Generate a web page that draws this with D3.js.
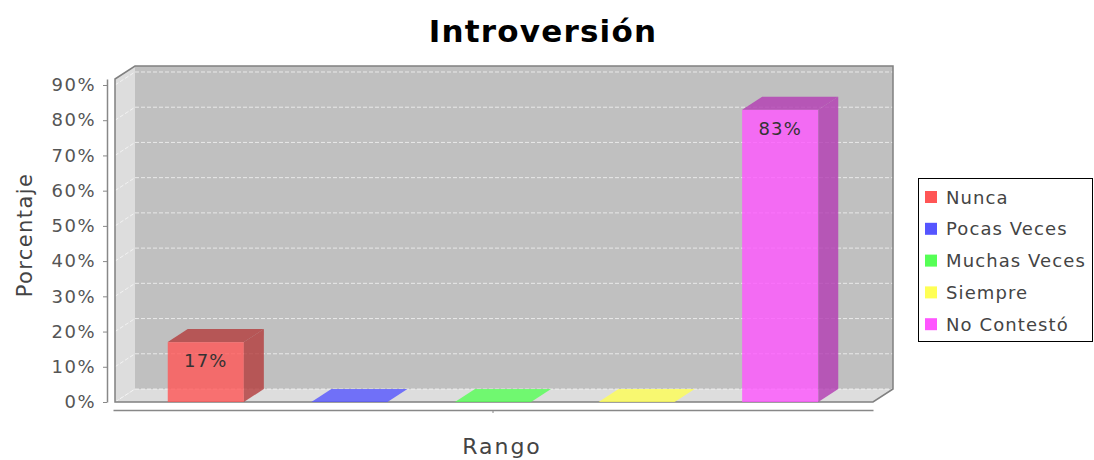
<!DOCTYPE html>
<html>
<head>
<meta charset="utf-8">
<script src="https://cdn.jsdelivr.net/npm/d3@7"></script>
<style>
  body { margin: 0; background: #fff; }
  text { font-family: "DejaVu Sans", sans-serif; }
</style>
</head>
<body>
<svg id="chart" width="1094" height="460"></svg>
<script>
// chart data
const seriesNames = ["Nunca", "Pocas Veces", "Muchas Veces", "Siempre", "No Contestó"];
const seriesValues = [0.17, 0, 0, 0, 0.83];
const seriesColors = ["#ff5555", "#5555ff", "#55ff55", "#ffff55", "#ff55ff"];
const categories = [""];
const valueTicks = [0, 0.1, 0.2, 0.3, 0.4, 0.5, 0.6, 0.7, 0.8, 0.9];

const svg = d3.select("#chart");

// front face of the 3d data area and depth offset
const area = {left: 115, right: 873, top: 79, bottom: 402};
const dx = 20, dy = 13;

const y = d3.scaleLinear().domain([0, 0.917]).range([area.bottom, area.top]);
const cat = d3.scaleBand().domain(categories).range([area.left - 2, area.right]);
const x = d3.scaleBand().domain(seriesNames)
    .range([134, 852])
    .paddingInner(0.47)
    .paddingOuter(0.235);

// title
svg.append("text")
    .attr("x", 543).attr("y", 42)
    .attr("text-anchor", "middle")
    .style("font-size", "31px")
    .style("font-weight", "bold")
    .style("letter-spacing", "1.2px")
    .text("Introversión");

// back wall
svg.append("rect")
    .attr("x", area.left + dx).attr("y", area.top - dy)
    .attr("width", area.right - area.left).attr("height", area.bottom - area.top)
    .attr("fill", "#c0c0c0");

// left wall and floor
svg.append("polygon")
    .attr("points", [[area.left, area.top], [area.left + dx, area.top - dy],
                     [area.left + dx, area.bottom - dy], [area.left, area.bottom]].join(" "))
    .attr("fill", "#dddddd");
svg.append("polygon")
    .attr("points", [[area.left, area.bottom], [area.left + dx, area.bottom - dy],
                     [area.right + dx, area.bottom - dy], [area.right, area.bottom]].join(" "))
    .attr("fill", "#dddddd");

// gridlines on back wall and left wall
const grid = svg.append("g");
valueTicks.forEach(t => {
  grid.append("line")
      .attr("x1", area.left + dx).attr("x2", area.right + dx)
      .attr("y1", y(t) - dy).attr("y2", y(t) - dy)
      .attr("stroke", "#ffffff").attr("stroke-opacity", 0.65)
      .attr("stroke-width", 1).attr("stroke-dasharray", "4,2");
  grid.append("line")
      .attr("x1", area.left).attr("x2", area.left + dx)
      .attr("y1", y(t)).attr("y2", y(t) - dy)
      .attr("stroke", "#ffffff").attr("stroke-opacity", 0.6)
      .attr("stroke-width", 1).attr("stroke-dasharray", "4,2");
});

// outline of the plot
svg.append("polygon")
    .attr("points", [[area.left, area.top], [area.left + dx, area.top - dy],
                     [area.right + dx, area.top - dy], [area.right + dx, area.bottom - dy],
                     [area.right, area.bottom], [area.left, area.bottom]].join(" "))
    .attr("fill", "none")
    .attr("stroke", "#808080")
    .attr("stroke-width", 1.5);

// bars
const bars = svg.append("g");
seriesNames.forEach((name, i) => {
  const v = seriesValues[i];
  const x0 = x(name), w = x.bandwidth();
  const top = y(v), bot = y(0);
  const base = d3.rgb(seriesColors[i]);
  const dark = d3.rgb(base.r * 0.7, base.g * 0.7, base.b * 0.7);
  const topFill = v > 0 ? dark : base;

  bars.append("rect")
      .attr("x", x0).attr("y", top)
      .attr("width", w).attr("height", bot - top)
      .attr("fill", base).attr("fill-opacity", 0.8);
  if (v > 0) {
    bars.append("polygon")
        .attr("points", [[x0 + w, top], [x0 + w + dx, top - dy],
                         [x0 + w + dx, bot - dy], [x0 + w, bot]].join(" "))
        .attr("fill", dark).attr("fill-opacity", 0.8);
  }
  bars.append("polygon")
      .attr("points", [[x0, top], [x0 + dx, top - dy],
                       [x0 + w + dx, top - dy], [x0 + w, top]].join(" "))
      .attr("fill", topFill).attr("fill-opacity", 0.8);

  if (v > 0) {
    bars.append("text")
        .attr("x", x0 + w / 2).attr("y", top + 25)
        .attr("text-anchor", "middle")
        .style("font-size", "18px")
        .style("letter-spacing", "1.2px")
        .attr("fill", "#333")
        .text(d3.format(".0%")(v));
  }
});

// value axis
const yAxis = svg.append("g")
    .attr("transform", "translate(107,0)")
    .call(d3.axisLeft(y).tickValues(valueTicks).tickFormat(d3.format(".0%"))
          .tickSizeInner(4).tickSizeOuter(0).tickPadding(7));
yAxis.select(".domain").attr("stroke", "#888").attr("stroke-width", 1.5);
yAxis.selectAll(".tick line").attr("stroke", "#888");
yAxis.selectAll(".tick text")
    .attr("fill", "#555")
    .style("font-size", "18px")
    .style("letter-spacing", "1.5px")
    .style("font-family", "DejaVu Sans, sans-serif");

svg.append("text")
    .attr("transform", "translate(32,235) rotate(-90)")
    .attr("text-anchor", "middle")
    .attr("fill", "#444")
    .style("font-size", "21px")
    .style("letter-spacing", "1.4px")
    .text("Porcentaje");

// category axis
const xAxis = svg.append("g")
    .attr("transform", "translate(0,410)")
    .call(d3.axisBottom(cat).tickSizeInner(3).tickSizeOuter(0));
xAxis.select(".domain").attr("stroke", "#888").attr("stroke-width", 1.5);
xAxis.selectAll(".tick line").attr("stroke", "#888");

svg.append("text")
    .attr("x", 502).attr("y", 454)
    .attr("text-anchor", "middle")
    .attr("fill", "#444")
    .style("font-size", "22px")
    .style("letter-spacing", "2px")
    .text("Rango");

// legend
const legend = svg.append("g");
legend.append("rect")
    .attr("x", 918.5).attr("y", 178.5)
    .attr("width", 174).attr("height", 163)
    .attr("fill", "#fff").attr("stroke", "#000");
seriesNames.forEach((name, i) => {
  const cy = 197 + i * 31.8;
  legend.append("rect")
      .attr("x", 925).attr("y", cy - 6)
      .attr("width", 12).attr("height", 12)
      .attr("fill", seriesColors[i]);
  legend.append("text")
      .attr("x", 946).attr("y", cy + 6.5)
      .attr("fill", "#444")
      .style("font-size", "18px")
      .style("letter-spacing", "1.1px")
      .text(name);
});
</script>
</body>
</html>
